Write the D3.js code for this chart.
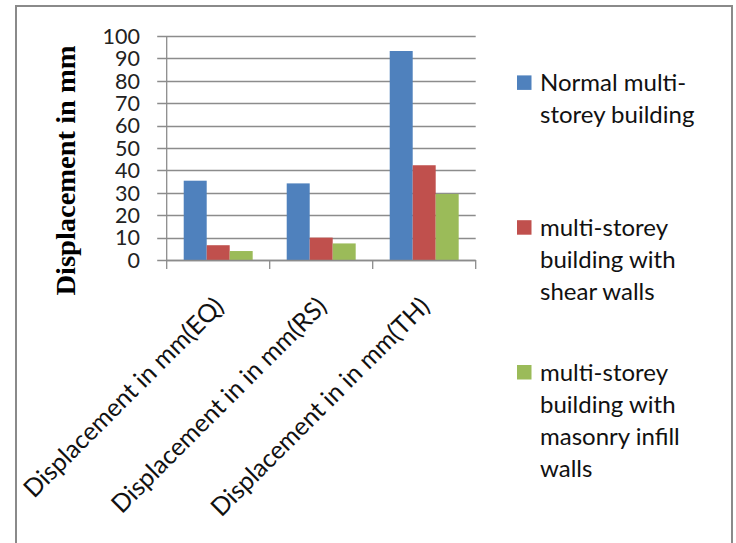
<!DOCTYPE html>
<html>
<head>
<meta charset="utf-8">
<script src="https://cdn.jsdelivr.net/npm/d3@7"></script>
<style>
  html, body { margin: 0; padding: 0; background: #fff; }
  svg { display: block; }
</style>
</head>
<body>
<svg id="chart" width="736" height="543"></svg>
<script>
// ---- data ----
const categories = ["Displacement in mm(EQ)", "Displacement in in mm(RS)", "Displacement in in mm(TH)"];
const seriesNames = ["Normal multi-storey building", "multi-storey building with shear walls", "multi-storey building with masonry infill walls"];
const normalBuilding = [35.4, 34.2, 93.3];
const shearWalls = [6.6, 10.0, 42.3];
const infillWalls = [4.0, 7.4, 29.5];
const yTicks = [0, 10, 20, 30, 40, 50, 60, 70, 80, 90, 100];
const legendLines = [
  ["Normal multi-", "storey building"],
  ["multi-storey", "building with", "shear walls"],
  ["multi-storey", "building with", "masonry infill", "walls"]
];
const yTitle = "Displacement in mm";
const colors = ["#4F81BD", "#C0504D", "#9BBB59"];

const seriesValues = [normalBuilding, shearWalls, infillWalls];

const svg = d3.select("#chart");
const font = "Lato, 'Open Sans', sans-serif";

// outer frame
svg.append("path")
  .attr("d", "M16,560 L16,6 L732,6 L732,560")
  .attr("fill", "none")
  .attr("stroke", "#8a8a8a")
  .attr("stroke-width", 2);

const plot = { left: 166.7, right: 475.7, top: 36, bottom: 260 };

const x = d3.scaleBand().domain(categories).range([plot.left, plot.right]).padding(0);
const xs = d3.scaleBand().domain(d3.range(seriesNames.length)).range([0, x.bandwidth()])
  .paddingInner(0).paddingOuter(0.74);
const y = d3.scaleLinear().domain([0, 100]).range([plot.bottom, plot.top]);

// gridlines (with outward tick)
svg.append("g").selectAll("line").data(yTicks).join("line")
  .attr("x1", plot.left - 9.5).attr("x2", plot.right)
  .attr("y1", d => Math.round(y(d)) + 0.5).attr("y2", d => Math.round(y(d)) + 0.5)
  .attr("stroke", "#8c8c8c").attr("stroke-width", 1.3);

// bars
const groups = svg.append("g").selectAll("g").data(seriesValues).join("g")
  .attr("fill", (d, i) => colors[i]);
groups.each(function(vals, si) {
  d3.select(this).selectAll("rect").data(vals).join("rect")
    .attr("x", (v, ci) => x(categories[ci]) + xs(si))
    .attr("width", xs.bandwidth())
    .attr("y", v => y(v))
    .attr("height", v => y(0) - y(v));
});

// y axis line
svg.append("line")
  .attr("x1", plot.left).attr("x2", plot.left)
  .attr("y1", plot.top).attr("y2", plot.bottom + 9)
  .attr("stroke", "#8c8c8c").attr("stroke-width", 1.3);

// x axis line + category ticks
svg.append("line")
  .attr("x1", plot.left).attr("x2", plot.right)
  .attr("y1", Math.round(y(0)) + 0.5).attr("y2", Math.round(y(0)) + 0.5)
  .attr("stroke", "#8c8c8c").attr("stroke-width", 1.3);
svg.append("g").selectAll("line").data(categories).join("line")
  .attr("x1", d => x(d) + x.bandwidth()).attr("x2", d => x(d) + x.bandwidth())
  .attr("y1", plot.bottom).attr("y2", plot.bottom + 9)
  .attr("stroke", "#8c8c8c").attr("stroke-width", 1.3);

// y tick labels
svg.append("g").selectAll("text").data(yTicks).join("text")
  .attr("x", 140).attr("y", d => y(d))
  .attr("dy", "0.36em")
  .attr("text-anchor", "end")
  .attr("font-family", font).attr("font-size", 21.5)
  .attr("fill", "#222")
  .text(d => d);

// category labels (rotated -45)
svg.append("g").selectAll("text").data(categories).join("text")
  .attr("text-anchor", "end")
  .attr("font-family", font).attr("font-size", 25)
  .attr("fill", "#111")
  .attr("transform", d => `translate(${x(d) + x.bandwidth() / 2 + 7},${plot.bottom + 48}) rotate(-45)`)
  .text(d => d);

// y axis title
svg.append("text")
  .attr("transform", `translate(75,${(45 + 296) / 2}) rotate(-90)`)
  .attr("text-anchor", "middle")
  .attr("font-family", "'Liberation Serif', 'Times New Roman', serif")
  .attr("font-weight", "bold")
  .attr("font-size", 27)
  .attr("textLength", 250)
  .attr("lengthAdjust", "spacingAndGlyphs")
  .attr("fill", "#000")
  .text(yTitle);

// legend
const lineH = 32;
const entryCenters = [107.4, 268.2, 429];
const leg = svg.append("g").selectAll("g").data(legendLines).join("g");
leg.each(function(lines, i) {
  const g = d3.select(this);
  const firstBase = entryCenters[i] - (lines.length - 1) * lineH / 2;
  g.append("rect")
    .attr("x", 517).attr("y", firstBase - 16)
    .attr("width", 14.5).attr("height", 14.5)
    .attr("fill", colors[i]);
  g.selectAll("text").data(lines).join("text")
    .attr("x", 540)
    .attr("y", (d, j) => firstBase + j * lineH)
    .attr("font-family", font).attr("font-size", 24)
    .attr("fill", "#111")
    .text(d => d);
});
</script>
</body>
</html>
